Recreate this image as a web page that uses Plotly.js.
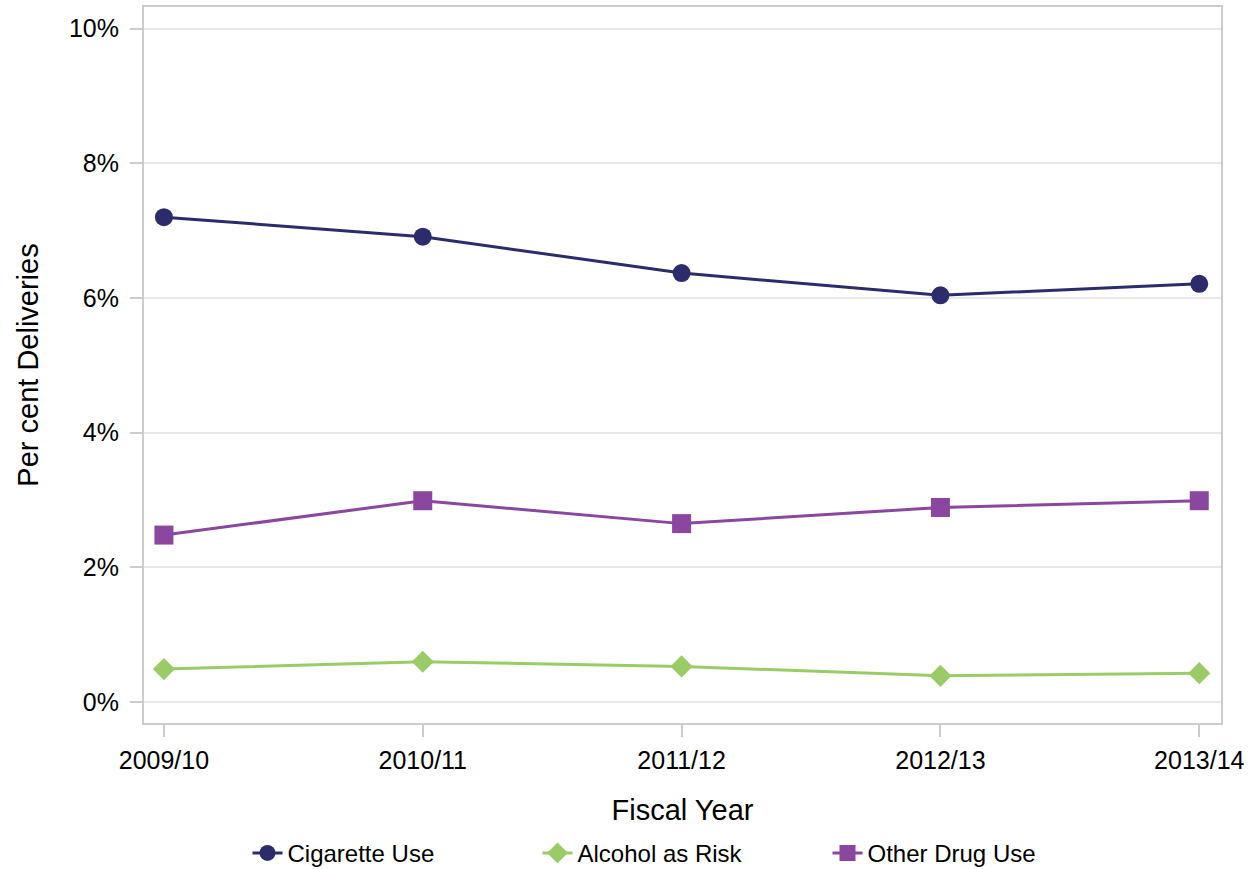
<!DOCTYPE html>
<html>
<head>
<meta charset="utf-8">
<script src="https://cdn.plot.ly/plotly-3.0.1.min.js"></script>
<style>html,body{margin:0;padding:0;background:#fff;}#chart{width:1256px;height:869px;}</style>
</head>
<body>
<div id="chart"></div>
<script>
const fiscalYears = ["2009/10", "2010/11", "2011/12", "2012/13", "2013/14"];
const cigaretteUse = [7.20, 6.91, 6.37, 6.04, 6.21];
const alcoholAsRisk = [0.49, 0.60, 0.53, 0.39, 0.43];
const otherDrugUse = [2.48, 2.99, 2.65, 2.89, 2.99];
const yTickVals = [0, 2, 4, 6, 8, 10];
const yTickText = ["0%", "2%", "4%", "6%", "8%", "10%"];

const font = "Liberation Sans, Arial, Helvetica, sans-serif";

const traces = [
  {x: fiscalYears, y: cigaretteUse, name: "Cigarette Use", type: "scatter", mode: "lines+markers",
   line: {color: "#2c2c6c", width: 3}, marker: {symbol: "circle", size: 18, color: "#2c2c6c"}},
  {x: fiscalYears, y: alcoholAsRisk, name: "Alcohol as Risk", type: "scatter", mode: "lines+markers",
   line: {color: "#99cc66", width: 3}, marker: {symbol: "diamond", size: 17, color: "#99cc66"}},
  {x: fiscalYears, y: otherDrugUse, name: "Other Drug Use", type: "scatter", mode: "lines+markers",
   line: {color: "#8b47a0", width: 3}, marker: {symbol: "square", size: 19, color: "#8b47a0"}}
];

const layout = {
  width: 1256, height: 869,
  margin: {l: 144, r: 35, t: 7, b: 146},
  paper_bgcolor: "#fff", plot_bgcolor: "#fff",
  font: {family: font, size: 24, color: "#000"},
  showlegend: true,
  legend: {orientation: "h", x: 0.5, xanchor: "center", xref: "paper",
           yref: "container", y: 0.018, yanchor: "middle",
           entrywidth: 245, entrywidthmode: "pixels",
           font: {family: font, size: 24, color: "#000"}},
  xaxis: {
    type: "category", range: [-0.077, 4.084],
    title: {text: "Fiscal Year", font: {family: font, size: 29, color: "#000"}, standoff: 27},
    showgrid: false, zeroline: false,
    showline: true, mirror: true, linecolor: "#cccccc", linewidth: 2,
    ticks: "outside", ticklen: 12, tickwidth: 2, tickcolor: "#cccccc",
    ticklabelstandoff: 2,
    tickfont: {family: font, size: 25, color: "#000"}
  },
  yaxis: {
    range: [-0.31, 10.32],
    tickvals: yTickVals, ticktext: yTickText,
    title: {text: "Per cent Deliveries", font: {family: font, size: 29, color: "#000"}, standoff: 22},
    showgrid: true, gridcolor: "#e8e8e8", gridwidth: 2, zeroline: false,
    showline: true, mirror: true, linecolor: "#cccccc", linewidth: 2,
    ticks: "outside", ticklen: 12, tickwidth: 2, tickcolor: "#cccccc",
    ticklabelstandoff: 6,
    tickfont: {family: font, size: 25, color: "#000"}
  }
};

Plotly.newPlot("chart", traces, layout, {displayModeBar: false, staticPlot: true});
</script>
</body>
</html>
